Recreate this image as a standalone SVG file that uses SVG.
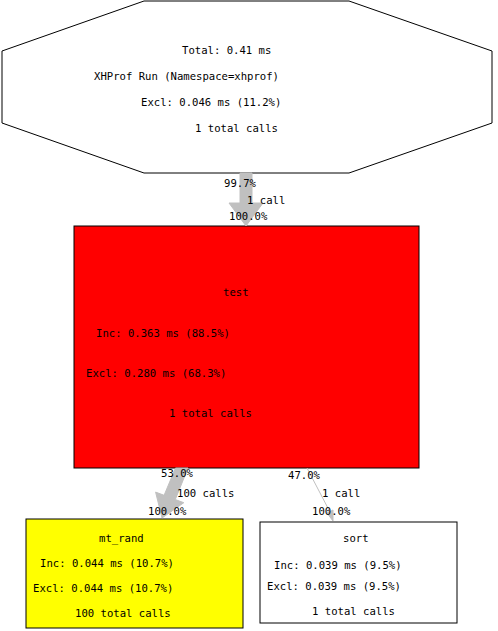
<svg xmlns="http://www.w3.org/2000/svg" width="498" height="631" viewBox="0 0 498 631">
<style>
text{font-family:"DejaVu Sans Mono","Liberation Mono",monospace;font-size:10.6px;fill:#000}
.node{stroke:#000;stroke-width:1}
.edge{fill:#c0c0c0;stroke:#c0c0c0}
</style>
<rect x="0" y="0" width="498" height="631" fill="#fff"/>
<g id="node-main">
<polygon class="node" fill="#fff" stroke="#444" points="144,1 349,1 492,51 492,123 349,173 144,173 2,123 2,51"/>
<text x="182" y="54">Total: 0.41 ms</text>
<text x="94" y="80">XHProf Run (Namespace=xhprof)</text>
<text x="141" y="106">Excl: 0.046 ms (11.2%)</text>
<text x="195" y="132">1 total calls</text>
</g>
<g id="node-test">
<rect class="node" x="74" y="226" width="345" height="242" fill="#ff0000"/>
<text x="223" y="296">test</text>
<text x="96" y="337">Inc: 0.363 ms (88.5%)</text>
<text x="86" y="377">Excl: 0.280 ms (68.3%)</text>
<text x="169" y="417">1 total calls</text>
</g>
<g id="node-mt_rand">
<rect class="node" x="26" y="519" width="217" height="109" fill="#ffff00"/>
<text x="99" y="542">mt_rand</text>
<text x="40" y="567">Inc: 0.044 ms (10.7%)</text>
<text x="33" y="592">Excl: 0.044 ms (10.7%)</text>
<text x="75" y="617">100 total calls</text>
</g>
<g id="node-sort">
<rect class="node" x="260" y="522" width="197" height="101" fill="#fff"/>
<text x="343" y="542">sort</text>
<text x="274" y="569">Inc: 0.039 ms (9.5%)</text>
<text x="267" y="590">Excl: 0.039 ms (9.5%)</text>
<text x="312" y="615">1 total calls</text>
</g>
<g id="connectors">
<polygon class="edge" stroke="none" points="240,173 252,173 252,203 263,203 246,226 229,203 240,203"/>
<polygon class="edge" stroke="none" points="175.5,468 188,468 175.3,499.5 183.8,502.7 162,518 155.6,492.1 164.1,495.3"/>
<line x1="307" y1="468" x2="330" y2="512" stroke="#c0c0c0" stroke-width="1"/>
<polygon class="edge" stroke="none" points="327,513 333,510 333,521"/>
<text x="224" y="187">99.7%</text>
<text x="247" y="204">1 call</text>
<text x="229" y="220">100.0%</text>
<text x="161" y="477">53.0%</text>
<text x="177" y="497">100 calls</text>
<text x="148" y="515">100.0%</text>
<text x="288" y="479">47.0%</text>
<text x="322" y="497">1 call</text>
<text x="312" y="515">100.0%</text>
</g>
</svg>
